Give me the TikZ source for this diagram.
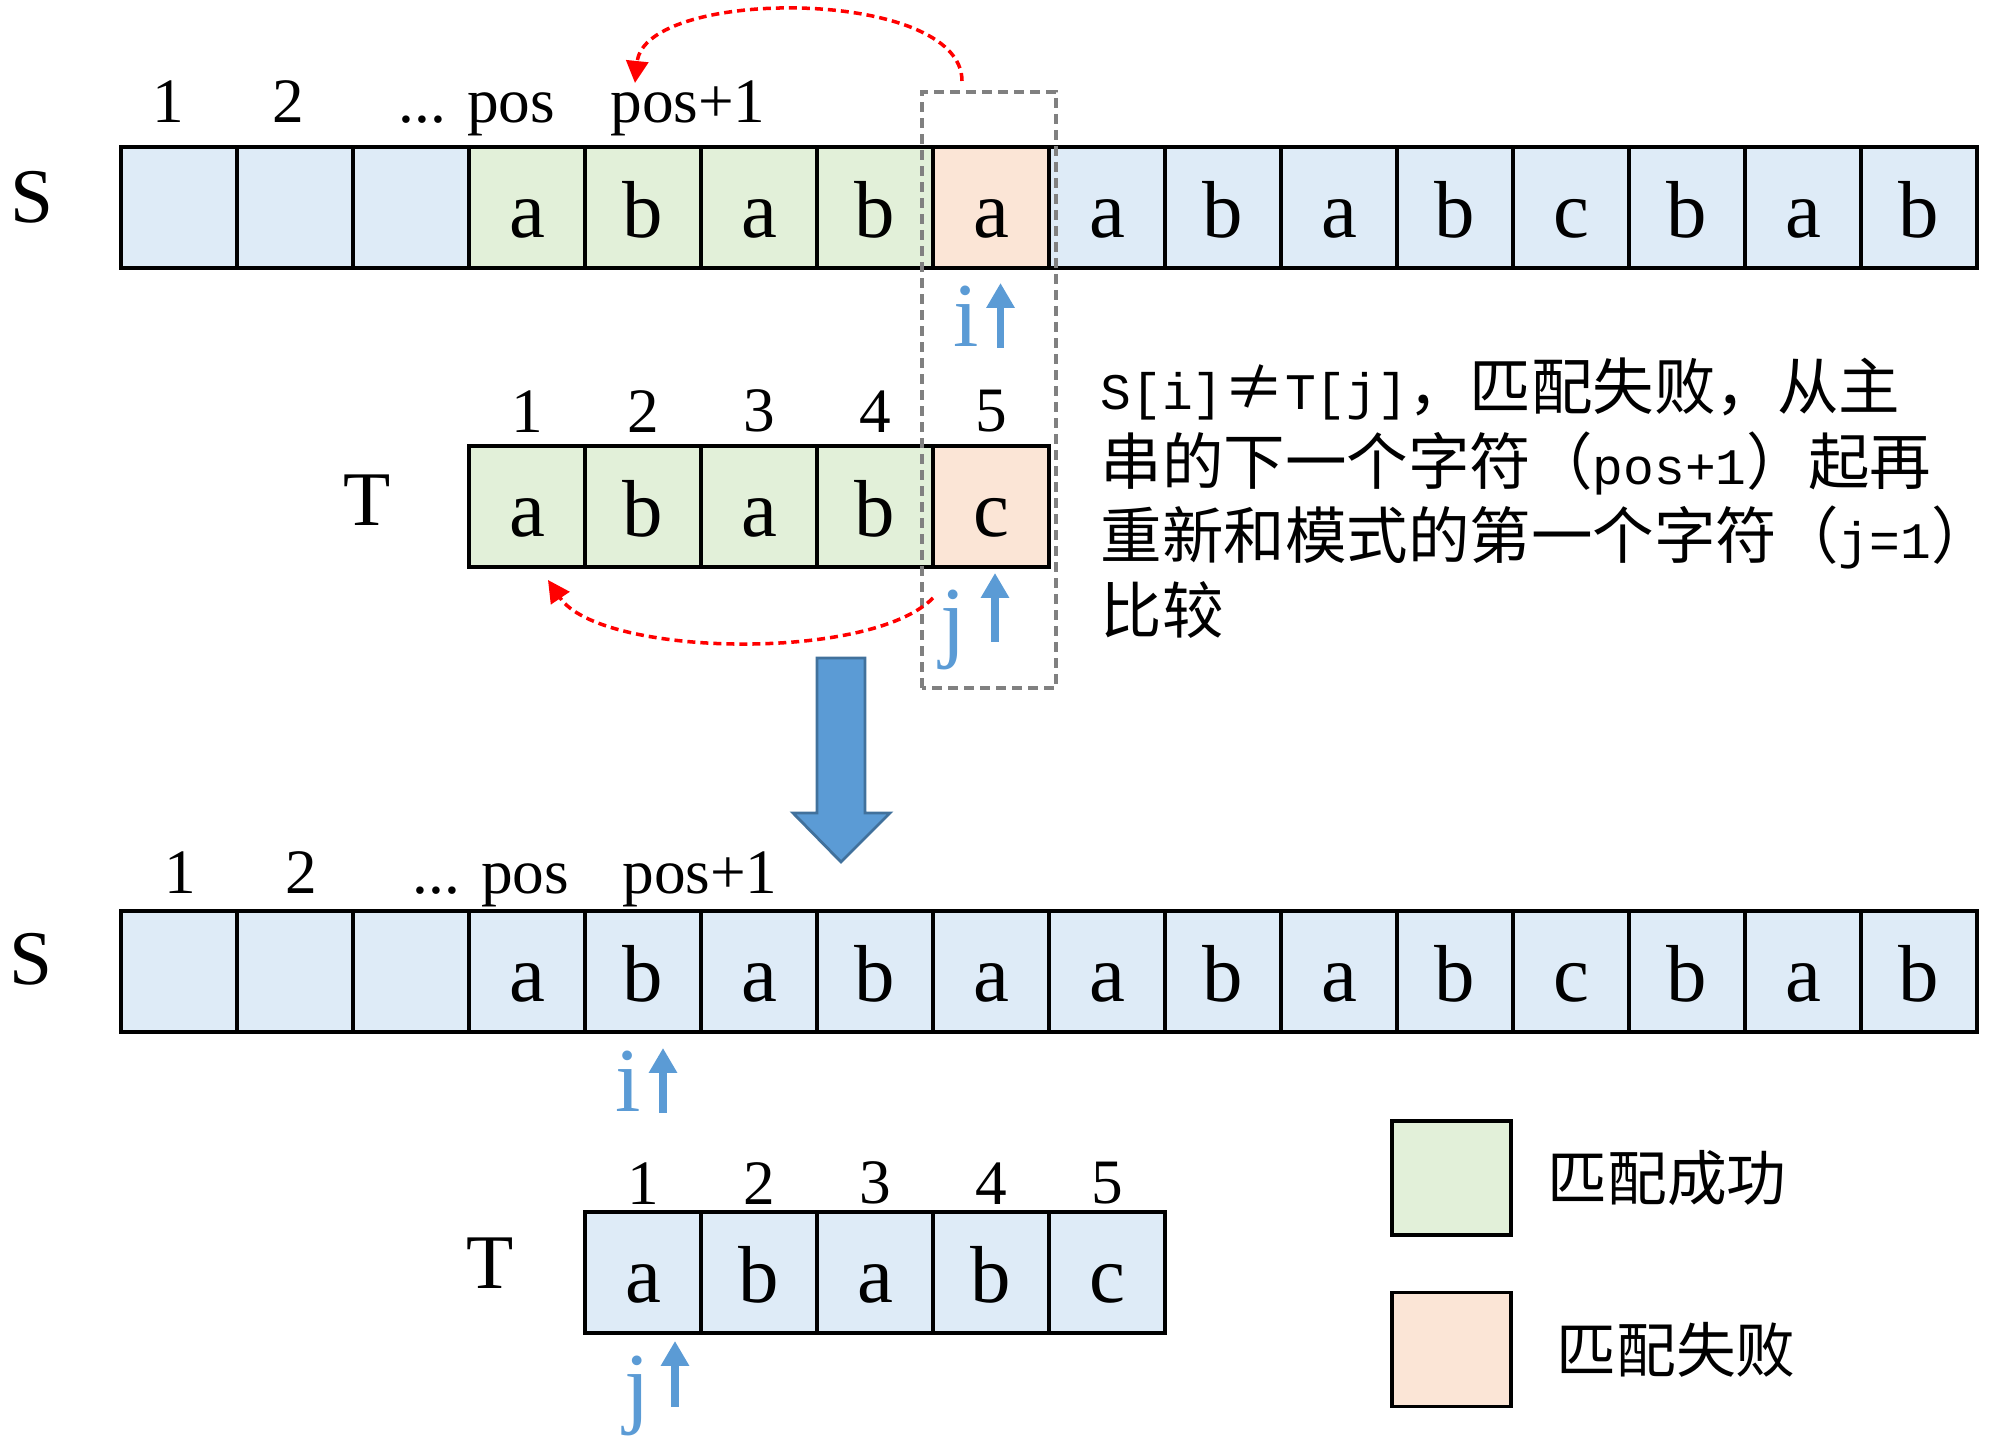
\documentclass[tikz,border=0pt]{standalone}
\usepackage{fontspec}
\setmainfont{Liberation Serif}
\newfontfamily\cjk{Noto Sans CJK SC}
\newfontfamily\halfw[Scale=0.8333]{Liberation Mono}
\usepackage{tikz}
\usetikzlibrary{positioning, arrows.meta}
\usepackage{xcolor}
\definecolor{cellblue}{HTML}{DEEBF7}
\definecolor{okgreen}{HTML}{E2F0D9}
\definecolor{badred}{HTML}{FBE5D6}
\definecolor{ptrblue}{HTML}{5B9BD5}
\definecolor{ptredge}{HTML}{41719C}

\begin{document}
\begin{tikzpicture}[
    cell/.style={draw, line width=1.1pt, fill=cellblue, minimum width=1.16cm, minimum height=1.21cm,
        inner sep=0pt, outer sep=0pt, text height=0.6cm, text depth=0pt, font=\fontsize{23}{23}\selectfont},
    ok/.style={cell, fill=okgreen},
    bad/.style={cell, fill=badred},
    idx/.style={anchor=base, inner sep=0pt, font=\fontsize{18}{18}\selectfont},
    tnum/.style={inner sep=0pt, label distance=0.13cm, font=\fontsize{18}{18}\selectfont},
    strname/.style={anchor=base, inner sep=0pt, font=\fontsize{22}{22}\selectfont},
    ptr/.style={anchor=base, inner sep=0pt, text=ptrblue, font=\fontsize{26}{26}\selectfont},
    ptrarrow/.style={draw=ptrblue, line width=2pt, -{Triangle[width=0.27cm, length=0.25cm]}},
    back/.style={draw=red, line width=1pt, dash pattern=on 0.08cm off 0.05cm, -{Triangle[width=0.22cm, length=0.22cm]}},
    frame/.style={draw=gray, line width=0.9pt, dash pattern=on 0.1cm off 0.06cm},
    note/.style={anchor=base west, inner sep=0pt, font=\cjk\fontsize{17.5}{21}\selectfont},
    legbox/.style={draw, line width=1.1pt, minimum width=1.19cm, minimum height=1.14cm, inner sep=0pt},
    legtext/.style={inner sep=0pt, font=\cjk\fontsize{17}{17}\selectfont}
]
    \useasboundingbox (0,0) rectangle (20,14.52);

    % Main string S before the mismatch
    \node[cell] (s1) at (1.79,12.445) {};
    \node[cell, right=0pt of s1] (s2) {};
    \node[cell, right=0pt of s2] (s3) {};
    \node[ok, right=0pt of s3] (s4) {a};
    \node[ok, right=0pt of s4] (s5) {b};
    \node[ok, right=0pt of s5] (s6) {a};
    \node[ok, right=0pt of s6] (s7) {b};
    \node[bad, right=0pt of s7] (s8) {a};
    \node[cell, right=0pt of s8] (s9) {a};
    \node[cell, right=0pt of s9] (s10) {b};
    \node[cell, right=0pt of s10] (s11) {a};
    \node[cell, right=0pt of s11] (s12) {b};
    \node[cell, right=0pt of s12] (s13) {c};
    \node[cell, right=0pt of s13] (s14) {b};
    \node[cell, right=0pt of s14] (s15) {a};
    \node[cell, right=0pt of s15] (s16) {b};

    \node[strname] (sname) at (0.32,12.29) {S};
    \node[idx] (n1) at (1.68,13.29) {1};
    \node[idx] (n2) at (2.88,13.29) {2};
    \node[idx] (npos) at (4.77,13.29) {... pos};
    \node[idx] (nnext) at (6.88,13.29) {pos+1};

    % Pattern T before the mismatch
    \node[ok, label={[tnum]above:1}] (t1) at (5.27,9.455) {a};
    \node[ok, right=0pt of t1, label={[tnum]above:2}] (t2) {b};
    \node[ok, right=0pt of t2, label={[tnum]above:3}] (t3) {a};
    \node[ok, right=0pt of t3, label={[tnum]above:4}] (t4) {b};
    \node[bad, right=0pt of t4, label={[tnum]above:5}] (t5) {c};
    \node[strname] (tname) at (3.67,9.26) {T};

    % Pointers i and j
    \node[ptr] (ip) at (9.66,11.05) {i};
    \coordinate (ia0) at (10.005,11.04);
    \coordinate (ia1) at (10.005,11.69);
    \draw[ptrarrow] (ia0) -- (ia1);
    \node[ptr] (jp) at (9.53,8.01) {j};
    \coordinate (ja0) at (9.95,8.10);
    \coordinate (ja1) at (9.95,8.79);
    \draw[ptrarrow] (ja0) -- (ja1);

    % Mismatch frame and backtracking
    \draw[frame] (9.22,7.64) rectangle (10.56,13.60);
    \coordinate (ra0) at (9.62,13.71);
    \coordinate (ra1) at (6.35,13.69);
    \draw[back] (ra0) .. controls (9.62,14.65) and (6.45,14.65) .. (ra1);
    \coordinate (rb0) at (9.33,8.54);
    \coordinate (rb1) at (5.48,8.72);
    \draw[back] (rb0) .. controls (8.7,7.9) and (6.0,7.95) .. (rb1);

    % Explanation
    \node[note] (line1) at (11.00,10.42) {{\halfw S[i]}≠{\halfw T[j]}，匹配失败，从主};
    \node[note] (line2) at (11.00,9.675) {串的下一个字符（{\halfw pos+1}）起再};
    \node[note] (line3) at (11.00,8.93) {重新和模式的第一个字符（{\halfw j=1}）};
    \node[note] (line4) at (11.00,8.185) {比较};

    % Big arrow down
    \draw[fill=ptrblue, draw=ptredge, line width=0.8pt] (8.17,7.94) -- (8.65,7.94) -- (8.65,6.39) -- (8.90,6.39)
        -- (8.41,5.90) -- (7.93,6.39) -- (8.17,6.39) -- cycle;

    % Main string S after the shift
    \node[cell] (sn1) at (1.79,4.805) {};
    \node[cell, right=0pt of sn1] (sn2) {};
    \node[cell, right=0pt of sn2] (sn3) {};
    \node[cell, right=0pt of sn3] (sn4) {a};
    \node[cell, right=0pt of sn4] (sn5) {b};
    \node[cell, right=0pt of sn5] (sn6) {a};
    \node[cell, right=0pt of sn6] (sn7) {b};
    \node[cell, right=0pt of sn7] (sn8) {a};
    \node[cell, right=0pt of sn8] (sn9) {a};
    \node[cell, right=0pt of sn9] (sn10) {b};
    \node[cell, right=0pt of sn10] (sn11) {a};
    \node[cell, right=0pt of sn11] (sn12) {b};
    \node[cell, right=0pt of sn12] (sn13) {c};
    \node[cell, right=0pt of sn13] (sn14) {b};
    \node[cell, right=0pt of sn14] (sn15) {a};
    \node[cell, right=0pt of sn15] (sn16) {b};

    \node[strname] (snname) at (0.31,4.67) {S};
    \node[idx] (m1) at (1.80,5.58) {1};
    \node[idx] (m2) at (3.01,5.58) {2};
    \node[idx] (mpos) at (4.91,5.58) {... pos};
    \node[idx] (mnext) at (7.00,5.58) {pos+1};

    % Pattern T after the shift
    \node[cell, label={[tnum, label distance=0.07cm]above:1}] (tn1) at (6.43,1.795) {a};
    \node[cell, right=0pt of tn1, label={[tnum, label distance=0.07cm]above:2}] (tn2) {b};
    \node[cell, right=0pt of tn2, label={[tnum, label distance=0.07cm]above:3}] (tn3) {a};
    \node[cell, right=0pt of tn3, label={[tnum, label distance=0.07cm]above:4}] (tn4) {b};
    \node[cell, right=0pt of tn4, label={[tnum, label distance=0.07cm]above:5}] (tn5) {c};
    \node[strname] (tnname) at (4.90,1.63) {T};

    \node[ptr] (inp) at (6.28,3.40) {i};
    \coordinate (ina0) at (6.63,3.39);
    \coordinate (ina1) at (6.63,4.04);
    \draw[ptrarrow] (ina0) -- (ina1);
    \node[ptr] (jnp) at (6.37,0.35) {j};
    \coordinate (jna0) at (6.75,0.45);
    \coordinate (jna1) at (6.75,1.11);
    \draw[ptrarrow] (jna0) -- (jna1);

    % Legend
    \node[legbox, fill=okgreen] (legok) at (14.515,2.74) {};
    \node[legtext, right=0.34cm of legok] (legoktxt) {匹配成功};
    \node[legbox, fill=badred] (legbad) at (14.515,1.025) {};
    \node[legtext, right=0.43cm of legbad] (legbadtxt) {匹配失败};

\end{tikzpicture}
\end{document}
